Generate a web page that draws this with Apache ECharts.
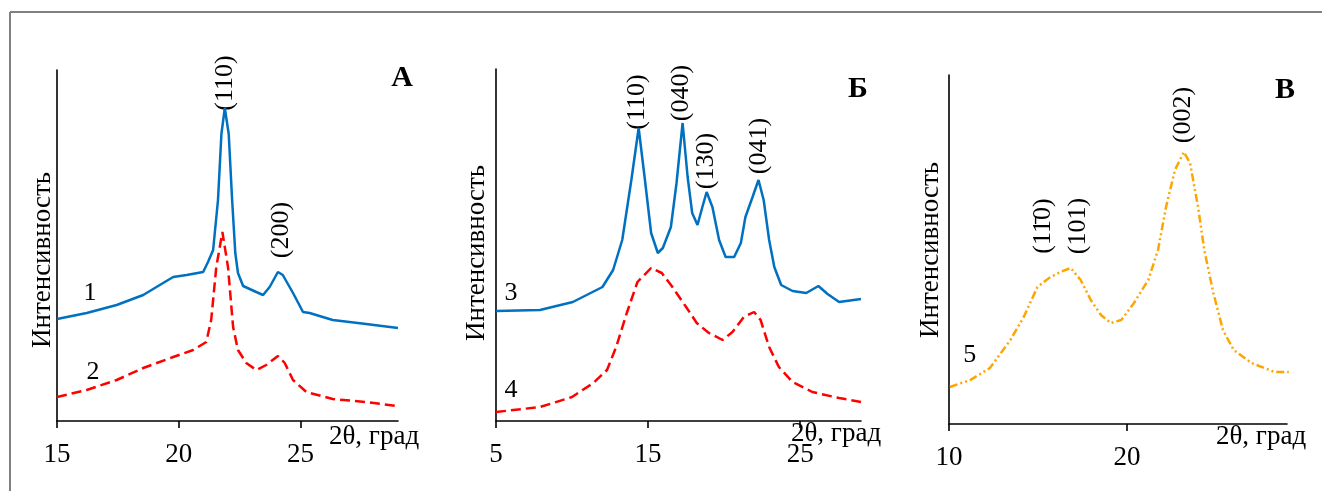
<!DOCTYPE html>
<html><head><meta charset="utf-8">
<script src="https://cdn.jsdelivr.net/npm/echarts@6/dist/echarts.min.js"></script>
<style>html,body{margin:0;padding:0;background:#fff}#c{width:1322px;height:491px}</style>
</head><body><div id="c"></div><script>
// ---- Panel А (2θ, intensity in arbitrary units) ----
const tA1 = [15.0,16.22,17.45,18.54,19.22,19.77,20.32,21.0,21.2,21.41,21.61,21.75,21.89,22.05,22.19,22.32,22.43,22.64,23.18,23.46,23.73,24.07,24.27,24.69,25.1,25.37,26.32,27.69,29.0];
const iA1 = [102,108,116,126,136,144,146,149,159,171,221,287,313,287,221,168,148,135,129,126,134,149,146,128,109,108,101,97,93];
const tA2 = [15.0,16.22,17.45,18.54,19.77,20.59,21.13,21.33,21.54,21.79,22.02,22.23,22.43,22.77,23.18,23.59,24.07,24.35,24.69,25.24,26.32,27.69,28.92];
const iA2 = [24,31,41,53,64,71,79,101,154,189,154,94,71,58,51,56,65,58,41,29,22,19,15];
// ---- Panel Б ----
const tB3 = [5.0,7.89,10.05,12.0,12.7,13.3,13.9,14.38,14.77,15.2,15.64,15.97,16.5,16.87,17.27,17.6,17.9,18.25,18.57,18.85,19.23,19.67,20.1,20.66,21.1,21.4,21.87,22.26,22.6,22.96,23.3,23.75,24.5,25.4,26.2,26.8,27.56,29.0];
const iB3 = [110,111,119,134,151,181,241,293,244,188,168,173,194,238,298,244,208,196,214,229,214,181,164,164,178,204,224,241,221,181,154,136,130,128,135,127,119,122];
const tB4 = [5.0,7.9,10.0,11.4,12.3,12.9,13.6,14.3,15.2,15.9,16.6,17.5,18.2,19.0,19.9,20.55,21.3,21.97,22.4,22.96,23.6,24.5,25.8,27.56,29.0];
const iB4 = [9,14,24,38,51,74,108,139,153,148,134,114,98,88,81,89,104,109,101,74,54,39,29,23,19];
// ---- Panel В ----
const tC5 = [10.05,11.2,12.3,13.45,14.2,14.97,15.7,16.27,16.84,17.4,17.97,18.54,19.1,19.68,20.4,21.2,21.75,22.2,22.7,23.2,23.55,24.0,24.35,24.86,25.4,26.0,27.0,28.3,29.1];
const iC5 = [37,44,56,84,107,137,147,152,156,144,124,109,101,104,121,144,174,217,254,272,261,217,174,131,94,74,61,52,52];
// ---- tick labels ----
const ticksA = [15,20,25];
const ticksB = [5,15,25];
const ticksC = [10,20];
// ---- annotations: [2θ, intensity, text] ----
const peaksA = [[21.89,338,'(110)'],[24.22,191,'(200)']];
const peaksB = [[14.31,319,'(110)'],[17.2,328,'(040)'],[18.84,260,'(130)'],[22.31,275,'(041)']];
const peaksC = [[15.3,198,'(11\u03040)'],[17.27,198,'(101)'],[23.14,309,'(002)']];
const numsA = [[16.35,128,'1'],[16.48,49,'2']];
const numsB = [[5.98,128,'3'],[5.98,31,'4']];
const numsC = [[11.17,69,'5']];

const FONT = '"Liberation Serif","Times New Roman",serif';
const FS = 27;
const zip = (t, v) => t.map((x, i) => [x, v[i]]);
const chart = echarts.init(document.getElementById('c'), null, {renderer:'canvas'});

function xAx(idx, min, max, ticks){
  return {gridIndex: idx, type:'value', min, max,
    axisLine:{show:true, onZero:false, lineStyle:{color:'#000', width:1.6}},
    axisTick:{show:true, length:7, customValues: ticks, lineStyle:{color:'#000', width:1.6}},
    axisLabel:{show:true, customValues: ticks, color:'#000', fontFamily:FONT, fontSize:FS, margin:20},
    splitLine:{show:false}};
}
function yAx(idx, max){
  return {gridIndex: idx, type:'value', min:0, max,
    axisLine:{show:true, lineStyle:{color:'#000', width:1.6}},
    axisTick:{show:false}, axisLabel:{show:false}, splitLine:{show:false}};
}
function lineS(idx, data, color, type, width){
  return {type:'line', xAxisIndex:idx, yAxisIndex:idx, data, showSymbol:false, symbol:'none',
    lineStyle:{color, width, type}, silent:true, animation:false, clip:false};
}
function labS(idx, items, rotate){
  return {type:'scatter', xAxisIndex:idx, yAxisIndex:idx, symbolSize:1, silent:true, animation:false,
    clip:false, itemStyle:{color:'rgba(0,0,0,0)', opacity:1},
    data: items.map(a => ({value:[a[0], a[1]], name:a[2]})),
    label:{show:true, position:'inside', formatter:'{b}', rotate, color:'#000', opacity:1, fontFamily:FONT, fontSize:26}};
}
function txt(x, y, s, opt, font){
  return Object.assign({type:'text', x, y, silent:true,
    style:{text:s, fill:'#000', font: font || (FS + 'px ' + FONT), textAlign:'center', textVerticalAlign:'middle'}}, opt || {});
}
const BOLD = 'bold 30px ' + FONT;

const option = {
  backgroundColor:'#fff',
  animation:false,
  grid:[
    {left:57, top:70, width:341, height:351},
    {left:496, top:69, width:365, height:352},
    {left:949, top:75, width:338, height:349}
  ],
  xAxis:[xAx(0,15,29,ticksA), xAx(1,5,29,ticksB), xAx(2,10,29,ticksC)],
  yAxis:[yAx(0,351), yAx(1,352), yAx(2,349)],
  series:[
    lineS(0, zip(tA1,iA1), '#0070C0', 'solid', 2.5),
    lineS(0, zip(tA2,iA2), '#FF0000', [10,5], 2.5),
    lineS(1, zip(tB3,iB3), '#0070C0', 'solid', 2.5),
    lineS(1, zip(tB4,iB4), '#FF0000', [10,5], 2.5),
    lineS(2, zip(tC5,iC5), '#FFA500', [8,3,2,3,2,3], 2.5),
    labS(0, peaksA, 90), labS(1, peaksB, 90), labS(2, peaksC, 90),
    labS(0, numsA, 0), labS(1, numsB, 0), labS(2, numsC, 0)
  ],
  graphic:[
    {type:'line', silent:true, shape:{x1:10, y1:12, x2:1322, y2:12}, style:{stroke:'#808080', lineWidth:2}},
    {type:'line', silent:true, shape:{x1:10, y1:12, x2:10, y2:491}, style:{stroke:'#808080', lineWidth:2}},
    txt(402, 78, 'А', null, BOLD),
    txt(858, 89, 'Б', null, BOLD),
    txt(1285, 90, 'В', null, BOLD),
    txt(374, 437, '2θ, град'),
    txt(836, 434, '2θ, град'),
    txt(1261, 437, '2θ, град'),
    txt(43, 260, 'Интенсивность', {rotation:Math.PI/2}),
    txt(477, 253, 'Интенсивность', {rotation:Math.PI/2}),
    txt(931, 250, 'Интенсивность', {rotation:Math.PI/2})
  ]
};
chart.setOption(option);
</script></body></html>
